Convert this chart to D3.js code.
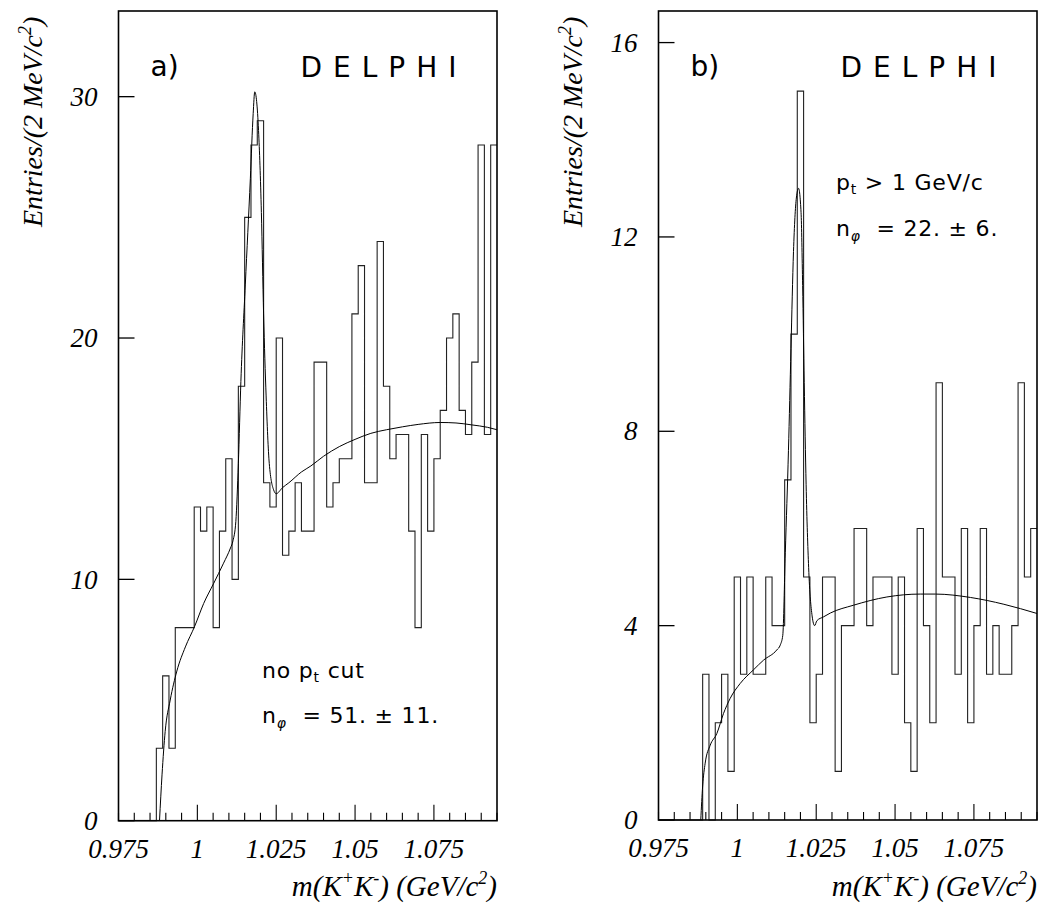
<!DOCTYPE html>
<html><head><meta charset="utf-8">
<script src="https://cdn.jsdelivr.net/npm/d3@7/dist/d3.min.js"></script>
<style>body{margin:0;background:#fff}svg{display:block}</style>
</head><body>
<svg id="c" width="1043" height="907"></svg>
<script>
// ---- data ----
const massStart = 0.975, binWidth = 0.002, massEnd = 1.095;
const countsA = [0,0,0,0,0,0,3,6,3,8,8,8,13,12,13,8,12,15,10,18,25,28,29,14,13,20,11,12,14,12,12,19,19,13,14,15,15,21,23,14,14,24,18,15,16,16,12,8,16,12,15,17,20,21,17,16,19,28,16,28];
const countsB = [0,0,0,0,0,0,0,3,0,2,3,1,5,3,5,3,3,5,4,4,7,10,15,5,2,3,5,5,1,4,4,6,6,4,5,5,5,3,5,2,1,6,4,2,9,5,5,3,6,2,4,6,3,4,3,3,4,9,5,6];
const fitMassA = [0.9880,0.9888,0.9898,0.9914,0.9935,0.9962,0.9991,1.0020,1.0052,1.0083,1.0105,1.0113,1.0122,1.0130,1.0138,1.0152,1.0168,1.0177,1.0182,1.0188,1.0194,1.0203,1.0210,1.0218,1.0228,1.0242,1.0250,1.0270,1.0290,1.0330,1.0360,1.0400,1.0450,1.0500,1.0550,1.0600,1.0650,1.0700,1.0770,1.0820,1.0870,1.0920,1.0950];
const fitValA  = [0,1.9,3.7,5.0,6.2,7.2,8.04,9.0,9.84,10.67,11.3,11.6,12.4,14.8,18.2,22.2,26.6,29.3,30.2,29.8,28.6,25.2,21.0,17.6,14.8,13.7,13.55,13.8,14.0,14.45,14.7,15.1,15.5,15.8,16.05,16.2,16.32,16.42,16.5,16.48,16.4,16.3,16.2];
const fitMassB = [0.9884,0.9890,0.9898,0.9914,0.9935,0.9956,0.9977,1.0009,1.0051,1.0083,1.0125,1.0136,1.0144,1.0152,1.0162,1.0170,1.0178,1.0187,1.0194,1.0202,1.0207,1.0212,1.0218,1.0226,1.0237,1.0245,1.0252,1.0273,1.0295,1.0368,1.0474,1.0580,1.0628,1.0739,1.0845,1.0950];
const fitValB  = [0,0.7,1.17,1.54,1.78,2.19,2.5,2.81,3.09,3.29,3.5,3.6,3.8,5.5,7.6,9.7,11.7,12.8,13.0,12.5,11.0,9.0,6.9,5.2,4.2,4.0,4.1,4.18,4.26,4.42,4.59,4.65,4.65,4.58,4.44,4.25];
const yTicksA = [0,10,20,30];
const yTicksB = [0,4,8,12,16];
const xTickValues = [0.975,1,1.025,1.05,1.075];
const xTickLabels = ["0.975","1","1.025","1.05","1.075"];
const yMaxA = 33.55, yMaxB = 16.65;

// ---- drawing ----
const svg = d3.select("#c");
const serif = "'Liberation Serif','Times New Roman',serif";
const sans = "'DejaVu Sans',sans-serif";

function drawPanel(p) {
  const g = svg.append("g");
  const x = d3.scaleLinear().domain([massStart, massEnd]).range([p.left, p.right]);
  const y = d3.scaleLinear().domain([0, p.yMax]).range([p.bottom, p.top]);

  // histogram
  const pts = p.counts.map((c,i) => [massStart + i*binWidth, c]);
  pts.push([massStart + p.counts.length*binWidth, p.counts[p.counts.length-1]]);
  g.append("path")
    .attr("d", d3.line().x(d=>x(d[0])).y(d=>y(d[1])).curve(d3.curveStepAfter)(pts))
    .attr("fill","none").attr("stroke","#222").attr("stroke-width",1.1);

  // fit curve
  const fpts = p.fitM.map((m,i)=>[m, p.fitV[i]]);
  g.append("path")
    .attr("d", d3.line().x(d=>x(d[0])).y(d=>y(d[1])).curve(d3.curveMonotoneX)(fpts))
    .attr("fill","none").attr("stroke","#000").attr("stroke-width",1);

  // frame
  g.append("rect").attr("x",p.left).attr("y",p.top)
    .attr("width",p.right-p.left).attr("height",p.bottom-p.top)
    .attr("fill","none").attr("stroke","#000").attr("stroke-width",1.6);

  // y ticks
  p.yTicks.forEach(v => {
    g.append("line").attr("x1",p.left).attr("x2",p.left+16)
      .attr("y1",y(v)).attr("y2",y(v)).attr("stroke","#000").attr("stroke-width",1.3);
    g.append("text").attr("x",p.left-21).attr("y",y(v)).attr("dy","0.34em")
      .attr("text-anchor","end").attr("font-family",serif).attr("font-style","italic")
      .attr("font-size",27).text(v);
  });

  // x ticks (minor every 5 MeV)
  d3.range(0, 25).forEach(k => {
    const m = massStart + k*0.005;
    const major = xTickValues.some(t => Math.abs(t-m) < 1e-9) && k>0;
    g.append("line").attr("x1",x(m)).attr("x2",x(m))
      .attr("y1",p.bottom).attr("y2",p.bottom-(major?16:8))
      .attr("stroke","#000").attr("stroke-width",1.1);
  });
  xTickValues.forEach((t,i) => {
    g.append("text").attr("x",x(t)).attr("y",p.bottom+37)
      .attr("text-anchor","middle").attr("font-family",serif).attr("font-style","italic")
      .attr("font-size",27).text(xTickLabels[i]);
  });

  // x title
  const xt = g.append("text").attr("x",p.right).attr("y",896).attr("text-anchor","end")
    .attr("font-family",serif).attr("font-style","italic").attr("font-size",29)
    .attr("xml:space","preserve");
  xt.append("tspan").text("m(K");
  xt.append("tspan").attr("dy",-12).attr("font-size",18).text("+");
  xt.append("tspan").attr("dy",12).text("K");
  xt.append("tspan").attr("dy",-12).attr("font-size",18).text("-");
  xt.append("tspan").attr("dy",12).text(") (GeV/c");
  xt.append("tspan").attr("dy",-12).attr("font-size",18).text("2");
  xt.append("tspan").attr("dy",12).text(")");

  // y title
  const yt = g.append("text").attr("transform",`translate(${p.left-77},227) rotate(-90)`)
    .attr("text-anchor","start").attr("font-family",serif).attr("font-style","italic")
    .attr("font-size",28);
  yt.append("tspan").text("Entries/(2 MeV/c");
  yt.append("tspan").attr("dy",-11).attr("font-size",18).text("2");
  yt.append("tspan").attr("dy",11).text(")");

  // labels
  g.append("text").attr("x",p.left+32).attr("y",76).attr("font-family",sans)
    .attr("font-size",28).text(p.tag);
  g.append("text").attr("x",p.left+182).attr("y",77).attr("font-family",sans)
    .attr("font-size",28).attr("letter-spacing",11).text("DELPHI");

  const t1 = g.append("text").attr("x",p.noteX).attr("y",p.note1Y)
    .attr("font-family",sans).attr("font-size",22).attr("letter-spacing",0.8)
    .attr("xml:space","preserve");
  t1.append("tspan").text(p.note1a + "p");
  t1.append("tspan").attr("dy",4).attr("font-size",14).text("t");
  t1.append("tspan").attr("dy",-4).text(p.note1b);

  const t2 = g.append("text").attr("x",p.noteX).attr("y",p.note2Y)
    .attr("font-family",sans).attr("font-size",22).attr("letter-spacing",0.8)
    .attr("xml:space","preserve");
  t2.append("tspan").text("n");
  t2.append("tspan").attr("dy",5).attr("font-size",14).attr("font-style","italic").text("φ");
  t2.append("tspan").attr("dy",-5).text(p.note2);
}

drawPanel({left:118.5, right:497, top:11, bottom:820.7, yMax:yMaxA,
  counts:countsA, fitM:fitMassA, fitV:fitValA, yTicks:yTicksA, tag:"a)",
  noteX:262, note1Y:678, note2Y:723, note1a:"no ", note1b:" cut", note2:"  = 51. ± 11."});
drawPanel({left:658.5, right:1037, top:11, bottom:820, yMax:yMaxB,
  counts:countsB, fitM:fitMassB, fitV:fitValB, yTicks:yTicksB, tag:"b)",
  noteX:836, note1Y:190, note2Y:236, note1a:"", note1b:" > 1 GeV/c", note2:"  = 22. ± 6."});
</script>
</body></html>
